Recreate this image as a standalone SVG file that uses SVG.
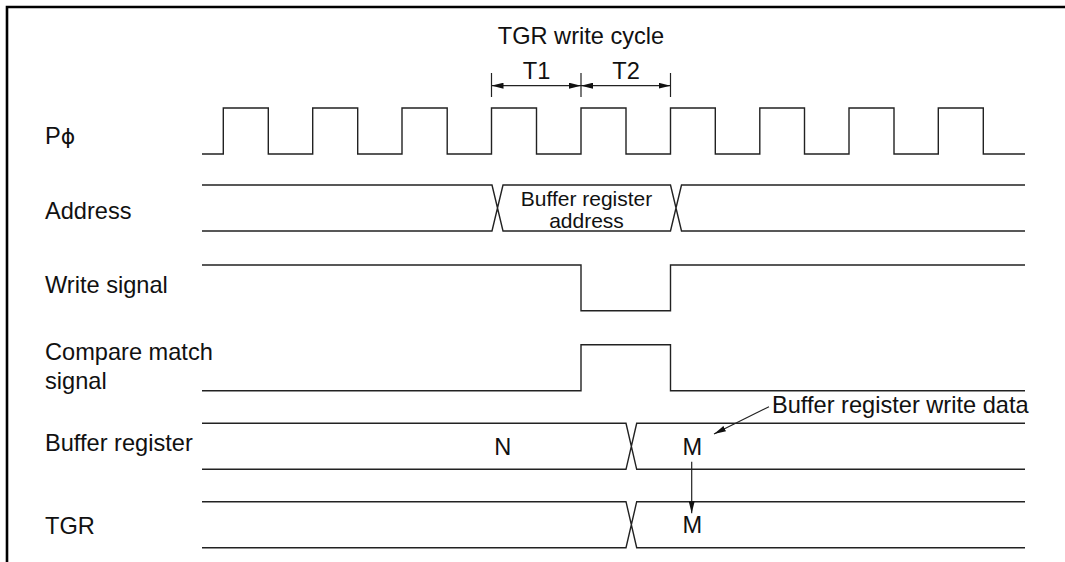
<svg xmlns="http://www.w3.org/2000/svg" width="1065" height="562" viewBox="0 0 1065 562">
<defs>
<marker id="ah" viewBox="0 0 12 6" refX="12" refY="3" markerWidth="12" markerHeight="6" markerUnits="userSpaceOnUse" orient="auto-start-reverse">
<path d="M0,0 L12,3 L0,6 Z" fill="#111"/>
</marker>
</defs>
<style>
.t{font-family:"Liberation Sans",Arial,sans-serif;font-size:23.6px;fill:#111}
.s{font-family:"Liberation Sans",Arial,sans-serif;font-size:21px;fill:#111}
.w{fill:none;stroke:#222;stroke-width:1.4}
.a{fill:none;stroke:#222;stroke-width:1.2}
</style>
<rect width="1065" height="562" fill="#fff"/>
<path d="M7,562 V7 H1065" fill="none" stroke="#000" stroke-width="2.6"/>
<g id="title">
<text class="t" x="581" y="44" text-anchor="middle">TGR write cycle</text>
<text class="t" x="536.5" y="79" text-anchor="middle">T1</text>
<text class="t" x="626" y="79" text-anchor="middle">T2</text>
<path class="a" d="M491.5,73 V97 M581,73 V97 M670.5,73 V97"/>
</g>
<g id="labels">
<text class="t" x="45" y="144">P<tspan font-family="'DejaVu Sans',sans-serif" font-size="22">ϕ</tspan></text>
<text class="t" x="45" y="219">Address</text>
<text class="t" x="45" y="293">Write signal</text>
<text class="t" x="45" y="360">Compare match</text>
<text class="t" x="45" y="389">signal</text>
<text class="t" x="45" y="451">Buffer register</text>
<text class="t" x="45" y="534">TGR</text>
</g>
<g id="clock">
<path class="w" d="M202,154 H223.3 V108 H268.3 V154 H312.7 V108 H357.7 V154 H402 V108 H447.2 V154 H491.5 V108 H536.5 V154 H581 V108 H626 V154 H670.5 V108 H715.3 V154 H759.8 V108 H804.5 V154 H849 V108 H894 V154 H938.3 V108 H983.3 V154 H1025"/>
</g>
<g id="address">
<path class="w" d="M202,185 H492 L503,231 H670.5 L681.5,185 H1025 M202,231 H492 L503,185 H670.5 L681.5,231 H1025"/>
<text class="s" x="586.5" y="206" text-anchor="middle">Buffer register</text>
<text class="s" x="586.5" y="227.5" text-anchor="middle">address</text>
</g>
<g id="write-signal">
<path class="w" d="M202,265 H581 V310.7 H670.5 V265 H1025"/>
</g>
<g id="compare-match">
<path class="w" d="M202,390.7 H581 V344.7 H670.5 V390.7 H1025"/>
</g>
<g id="buffer-register">
<path class="w" d="M202,423.3 H626 L636.7,469.3 H1025 M202,469.3 H626 L636.7,423.3 H1025"/>
<text class="t" x="502.7" y="455" text-anchor="middle">N</text>
<text class="t" x="692.3" y="455" text-anchor="middle">M</text>
</g>
<g id="tgr">
<path class="w" d="M202,501.7 H626 L636.7,547.7 H1025 M202,547.7 H626 L636.7,501.7 H1025"/>
<text class="t" x="692.3" y="533" text-anchor="middle">M</text>
</g>
<g id="annotation">
<text class="t" x="772" y="413">Buffer register write data</text>
</g>
<g id="connectors">
<line class="a" x1="491.5" y1="85.7" x2="581" y2="85.7" marker-start="url(#ah)" marker-end="url(#ah)"/>
<line class="a" x1="581" y1="85.7" x2="670.5" y2="85.7" marker-start="url(#ah)" marker-end="url(#ah)"/>
<line class="a" x1="769" y1="406.7" x2="714" y2="434" marker-end="url(#ah)"/>
<line class="a" x1="691.7" y1="461.7" x2="691.7" y2="513.3" marker-end="url(#ah)"/>
</g>
</svg>
